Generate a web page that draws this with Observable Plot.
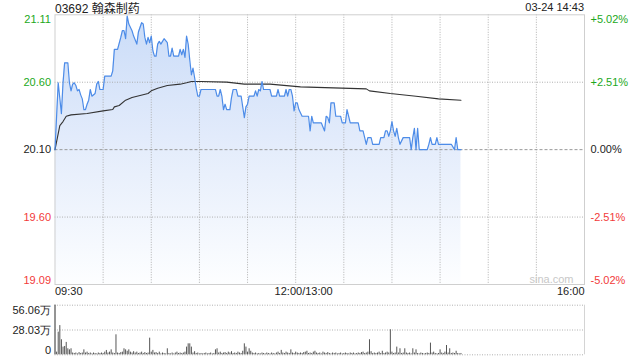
<!DOCTYPE html>
<html><head><meta charset="utf-8">
<script src="https://cdn.jsdelivr.net/npm/d3@7"></script>
<script src="https://cdn.jsdelivr.net/npm/@observablehq/plot@0.6"></script>
<style>
body{margin:0;background:#fff;}
#wrap{position:relative;width:640px;height:360px;font-family:"Liberation Sans",Arial,"Noto Sans CJK SC",sans-serif;overflow:hidden;}
#title{position:absolute;left:55px;top:-1px;font-size:12px;color:#222;white-space:nowrap;}
#stamp{position:absolute;right:56px;top:1px;font-size:11px;color:#222;white-space:nowrap;}
#main{position:absolute;left:0;top:0;}
#vol{position:absolute;left:0;top:300px;}
</style></head>
<body><div id="wrap"><div id="main"></div><div id="vol"></div><div id="title"></div><div id="stamp"></div></div>
<script>
const stockCode = "03692", stockName = "翰森制药", stamp = "03-24 14:43";
const preClose = 20.10;
const pctTicks = [5.02, 2.51, 0, -2.51, -5.02];
const timeLabels = ["09:30", "12:00/13:00", "16:00"];
const gridTimes = ["10:00","10:30","11:00","11:30","12:00","13:30","14:00","14:30","15:00","15:30"];
const watermark = "sina.com";

const priceTimes = ["09:30","09:32","09:34","09:35","09:36","09:38","09:39","09:40","09:41","09:42","09:43","09:44","09:45","09:46","09:47","09:48","09:49","09:50","09:51","09:52","09:53","09:55","09:56","09:57","09:58",
"10:00","10:01","10:05","10:06","10:07","10:09","10:11","10:12","10:13","10:14","10:15","10:16","10:18","10:19","10:21","10:22","10:24","10:25","10:26","10:27","10:28","10:29","10:30","10:31","10:32","10:33","10:34","10:35","10:36","10:38","10:40","10:41","10:42","10:43","10:44","10:47","10:48","10:49","10:50","10:51","10:52","10:53","10:54","10:55","10:56","10:57","10:58","10:59",
"11:00","11:01","11:10","11:11","11:12","11:13","11:14","11:15","11:16","11:17","11:19","11:20","11:21","11:23","11:24","11:26","11:27","11:28","11:29","11:30","11:31","11:34","11:35","11:36","11:37","11:38","11:39","11:40","11:44","11:45","11:48","11:49","11:50","11:53","11:54","11:55","11:56","11:57","11:58","11:59","12:00",
"13:01","13:02","13:04","13:08","13:09","13:10","13:11","13:16","13:18","13:19","13:20","13:21","13:22","13:24","13:25","13:28","13:29","13:31","13:32","13:33","13:34","13:39","13:40","13:42","13:43","13:44","13:45","13:47","13:48","13:52","13:53","13:55","13:56","13:57","13:58","13:59",
"14:00","14:01","14:02","14:03","14:04","14:05","14:07","14:11","14:12","14:13","14:14","14:15","14:16","14:17","14:22","14:23","14:24","14:25","14:27","14:28","14:29","14:37","14:39","14:40","14:41","14:43"];
const priceValues = [20.10,20.60,20.37,20.60,20.75,20.75,20.60,20.54,20.59,20.60,20.58,20.54,20.55,20.51,20.48,20.40,20.40,20.44,20.47,20.55,20.50,20.52,20.59,20.61,20.55,
20.55,20.65,20.65,20.69,20.85,20.85,20.94,20.99,20.99,20.93,21.10,21.04,20.99,20.95,20.89,20.98,21.05,21.04,20.94,20.89,20.94,20.90,20.95,20.84,20.80,20.80,20.89,20.91,20.89,20.93,20.90,20.80,20.80,20.86,20.80,20.80,20.85,20.81,20.85,20.79,20.95,20.89,20.77,20.66,20.71,20.64,20.56,20.50,
20.50,20.55,20.55,20.50,20.50,20.55,20.50,20.40,20.44,20.40,20.40,20.49,20.55,20.55,20.50,20.50,20.42,20.34,20.42,20.44,20.50,20.50,20.54,20.50,20.55,20.54,20.61,20.55,20.55,20.50,20.50,20.55,20.50,20.50,20.55,20.50,20.55,20.55,20.50,20.39,20.45,
20.45,20.40,20.35,20.35,20.24,20.35,20.30,20.30,20.24,20.35,20.34,20.30,20.45,20.45,20.35,20.35,20.30,20.30,20.40,20.35,20.30,20.30,20.24,20.24,20.19,20.14,20.19,20.19,20.14,20.14,20.19,20.19,20.24,20.24,20.20,20.24,
20.31,20.24,20.20,20.26,20.19,20.14,20.19,20.19,20.10,20.19,20.26,20.10,20.26,20.10,20.10,20.14,20.19,20.14,20.14,20.19,20.14,20.14,20.10,20.19,20.10,20.10];

const avgTimes = ["09:30","09:33","09:35","09:37","09:40","09:50","10:00","10:06","10:07","10:10","10:14","10:18","10:28","10:30","10:34","10:40","10:48","10:52","10:55","11:01","11:17","11:28","11:44","13:03","13:44","13:46","13:59","14:15","14:29","14:43"];
const avgValues = [20.10,20.28,20.31,20.35,20.36,20.37,20.39,20.40,20.42,20.43,20.47,20.49,20.52,20.54,20.56,20.58,20.59,20.60,20.61,20.61,20.605,20.59,20.59,20.57,20.555,20.54,20.52,20.50,20.48,20.47];

// volume per minute from 09:30 (万股)
const volumes = [56.06,3,25.6,33,17,8.7,9.4,14,6.8,5.6,
6.8,2,1.5,2,1,2.5,1.5,2,5.6,2,
3,1.5,2,1,2,1.5,1,2,1.5,2,
1.5,3,4.9,2,3,5.6,2,1.5,22.6,2,
1.5,2.5,3,6.8,5.6,4,5.6,3,2,3.5,
2,3,1.5,2,3,1.5,2.5,1.5,2,18.8,
3,5,2,2.5,1.5,3,1,2,1.5,1,
6.8,1.5,1,2,1,2,3,1.5,2,1.5,
2,3,8.7,12.4,12.4,8.7,2,3.5,1.5,2,
1,1.5,1,1.5,2,1,1.5,2,1,1.5,
5.6,6.8,2,3,1.5,2,2.5,1.5,3,2,
3.5,1.5,2,1.5,3,2,1.5,4,12.4,8.7,
3,6.8,4,2,1.5,2,1,1.5,1,2,
1.5,1,2,1.5,1,2,1.5,1,2,3,
1.5,5,2,1.5,3,2,1.5,5.6,2,1.5,
3,2,1.5,2,1.5,2.5,3,4,1.5,2,
1.5,3,4,2,1.5,2,1,3,2,1.5,
2.5,1.5,1,2,1.5,2,1,1.5,2,1,
1.5,2,1.5,1,2,1.5,2,1,1.5,2,
1.5,2.5,3,1.5,2,3,17,3.5,1.5,2,
1.5,2,3,1.5,4,1.5,2,3,2,28.3,
3,1.5,2,8.7,2,6.8,1.5,2,6.8,2,
1.5,2,1,6.8,2,5.6,1.5,1,2,1.5,
1,1.5,2,1.5,13.2,2,3,1.5,1,1.5,
5.6,2,1.5,3,10.5,2,6.8,1.5,2,1.5,
4,1.5,1,1.5];
const volTicks = [56.06, 28.03, 0];

document.getElementById("title").textContent = stockCode + " " + stockName;
document.getElementById("stamp").textContent = stamp;

// trading minutes since 09:30, lunch break removed
const toM = t => { const [h, m] = t.split(":").map(Number); const v = h * 60 + m; return v <= 720 ? v - 570 : 150 + (v - 780); };
const price = priceTimes.map((t, i) => ({m: toM(t), p: priceValues[i]}));
const avg = avgTimes.map((t, i) => ({m: toM(t), p: avgValues[i]}));
const vol = volumes.map((v, i) => ({m: i, v}));
const ticks = pctTicks.map(p => {
  const v = preClose * (1 + p / 100);
  return {v, p, label: v.toFixed(2), plabel: (p > 0 ? "+" : "") + p.toFixed(2) + "%",
    color: p > 0 ? "#1ca81c" : p < 0 ? "#f23a3a" : "#222"};
});
const yMin = d3.min(ticks, d => d.v), yMax = d3.max(ticks, d => d.v);
const xDom = [toM(timeLabels[0]), toM(timeLabels[2])];
const font = {fontFamily: '"Liberation Sans", Arial, sans-serif', fontSize: "11px", background: "transparent"};
const dots = "1,1.5";
const gridColor = "#a8a8a8";

const main = Plot.plot({
  width: 640, height: 300,
  marginLeft: 54.5, marginRight: 56, marginTop: 14.3, marginBottom: 16,
  x: {domain: xDom, axis: null},
  y: {domain: [yMin, yMax], axis: null},
  color: {type: "identity"},
  style: font,
  marks: [
    Plot.areaY(price, {x: "m", y1: yMin, y2: "p", fill: "url(#pgrad)", curve: "linear"}),
    Plot.ruleX(gridTimes, {x: d => toM(d), stroke: gridColor, strokeDasharray: dots, strokeOpacity: 0.9}),
    Plot.ruleY(ticks.filter(d => d.p !== 0 && Math.abs(d.p) < 5), {y: "v", stroke: gridColor, strokeDasharray: dots, strokeOpacity: 0.9}),
    Plot.ruleY(ticks.filter(d => d.p === 0), {y: "v", stroke: "#999", strokeDasharray: "3,2"}),
    Plot.frame({stroke: "#cfcfcf"}),
    Plot.line(avg, {x: "m", y: "p", stroke: "#333", strokeWidth: 1.1}),
    Plot.line(price, {x: "m", y: "p", stroke: "#4d8ce8", strokeWidth: 1.2}),
    // left price labels
    Plot.text(ticks.filter(d => d.p === pctTicks[0]), {y: "v", text: "label", fill: "color", frameAnchor: "left", textAnchor: "end", dx: -4, lineAnchor: "top", dy: 0.5}),
    Plot.text(ticks.filter(d => Math.abs(d.p) < 5), {y: "v", text: "label", fill: "color", frameAnchor: "left", textAnchor: "end", dx: -4}),
    Plot.text(ticks.filter(d => d.p === pctTicks[4]), {y: "v", text: "label", fill: "color", frameAnchor: "left", textAnchor: "end", dx: -4, lineAnchor: "bottom", dy: -0.5}),
    // right pct labels
    Plot.text(ticks.filter(d => d.p === pctTicks[0]), {y: "v", text: "plabel", fill: "color", frameAnchor: "right", textAnchor: "start", dx: 6, lineAnchor: "top", dy: 0.5}),
    Plot.text(ticks.filter(d => Math.abs(d.p) < 5), {y: "v", text: "plabel", fill: "color", frameAnchor: "right", textAnchor: "start", dx: 6}),
    Plot.text(ticks.filter(d => d.p === pctTicks[4]), {y: "v", text: "plabel", fill: "color", frameAnchor: "right", textAnchor: "start", dx: 6, lineAnchor: "bottom", dy: -0.5}),
    // time labels
    Plot.text([timeLabels[0]], {x: d => toM(d), text: d => d, frameAnchor: "bottom", textAnchor: "start", dy: 10, fill: "#222"}),
    Plot.text([timeLabels[1]], {x: d => toM(d.split("/")[0]), text: d => d, frameAnchor: "bottom", textAnchor: "middle", dy: 10, dx: 8, fill: "#222"}),
    Plot.text([timeLabels[2]], {x: d => toM(d), text: d => d, frameAnchor: "bottom", textAnchor: "end", dy: 10, fill: "#222"}),
    Plot.text([watermark], {text: d => d, frameAnchor: "bottom-right", dx: -11, dy: -2, lineAnchor: "bottom", fill: "#c8c8c8"})
  ]
});
// gradient for area fill
const svgMain = d3.select(main);
const defs = svgMain.insert("defs", ":first-child");
const g = defs.append("linearGradient").attr("id", "pgrad").attr("x1", 0).attr("y1", 0).attr("x2", 0).attr("y2", 1);
g.append("stop").attr("offset", "0%").attr("stop-color", "#cadcf8");
g.append("stop").attr("offset", "45%").attr("stop-color", "#e2ebfb");
g.append("stop").attr("offset", "100%").attr("stop-color", "#fdfeff");
document.getElementById("main").appendChild(main);

const volPlot = Plot.plot({
  width: 640, height: 60,
  marginLeft: 54.5, marginRight: 56, marginTop: 4.7, marginBottom: 5.7,
  x: {domain: xDom, axis: null},
  y: {domain: [0, volTicks[0]], axis: null},
  style: font,
  marks: [
    Plot.ruleY(volTicks, {y: d => d, stroke: gridColor, strokeDasharray: dots, strokeOpacity: 0.9}),
    Plot.ruleX([timeLabels[2]], {x: d => toM(d), stroke: "#d4d4d4"}),
    Plot.ruleX([timeLabels[0]], {x: d => toM(d), stroke: "#aaa"}),
    Plot.ruleX(vol, {x: "m", y1: 0, y2: "v", stroke: "#555", strokeWidth: 1}),
    Plot.text([volTicks[0]], {y: d => d, text: d => d.toFixed(2) + "万", frameAnchor: "left", textAnchor: "end", dx: -4, lineAnchor: "top", dy: 1, fill: "#222"}),
    Plot.text([volTicks[1]], {y: d => d, text: d => d.toFixed(2) + "万", frameAnchor: "left", textAnchor: "end", dx: -4, fill: "#222"}),
    Plot.text([volTicks[2]], {y: d => d, text: d => String(d), frameAnchor: "left", textAnchor: "end", dx: -4, lineAnchor: "bottom", dy: -0.5, fill: "#222"})
  ]
});
document.getElementById("vol").appendChild(volPlot);
</script>
</body></html>
